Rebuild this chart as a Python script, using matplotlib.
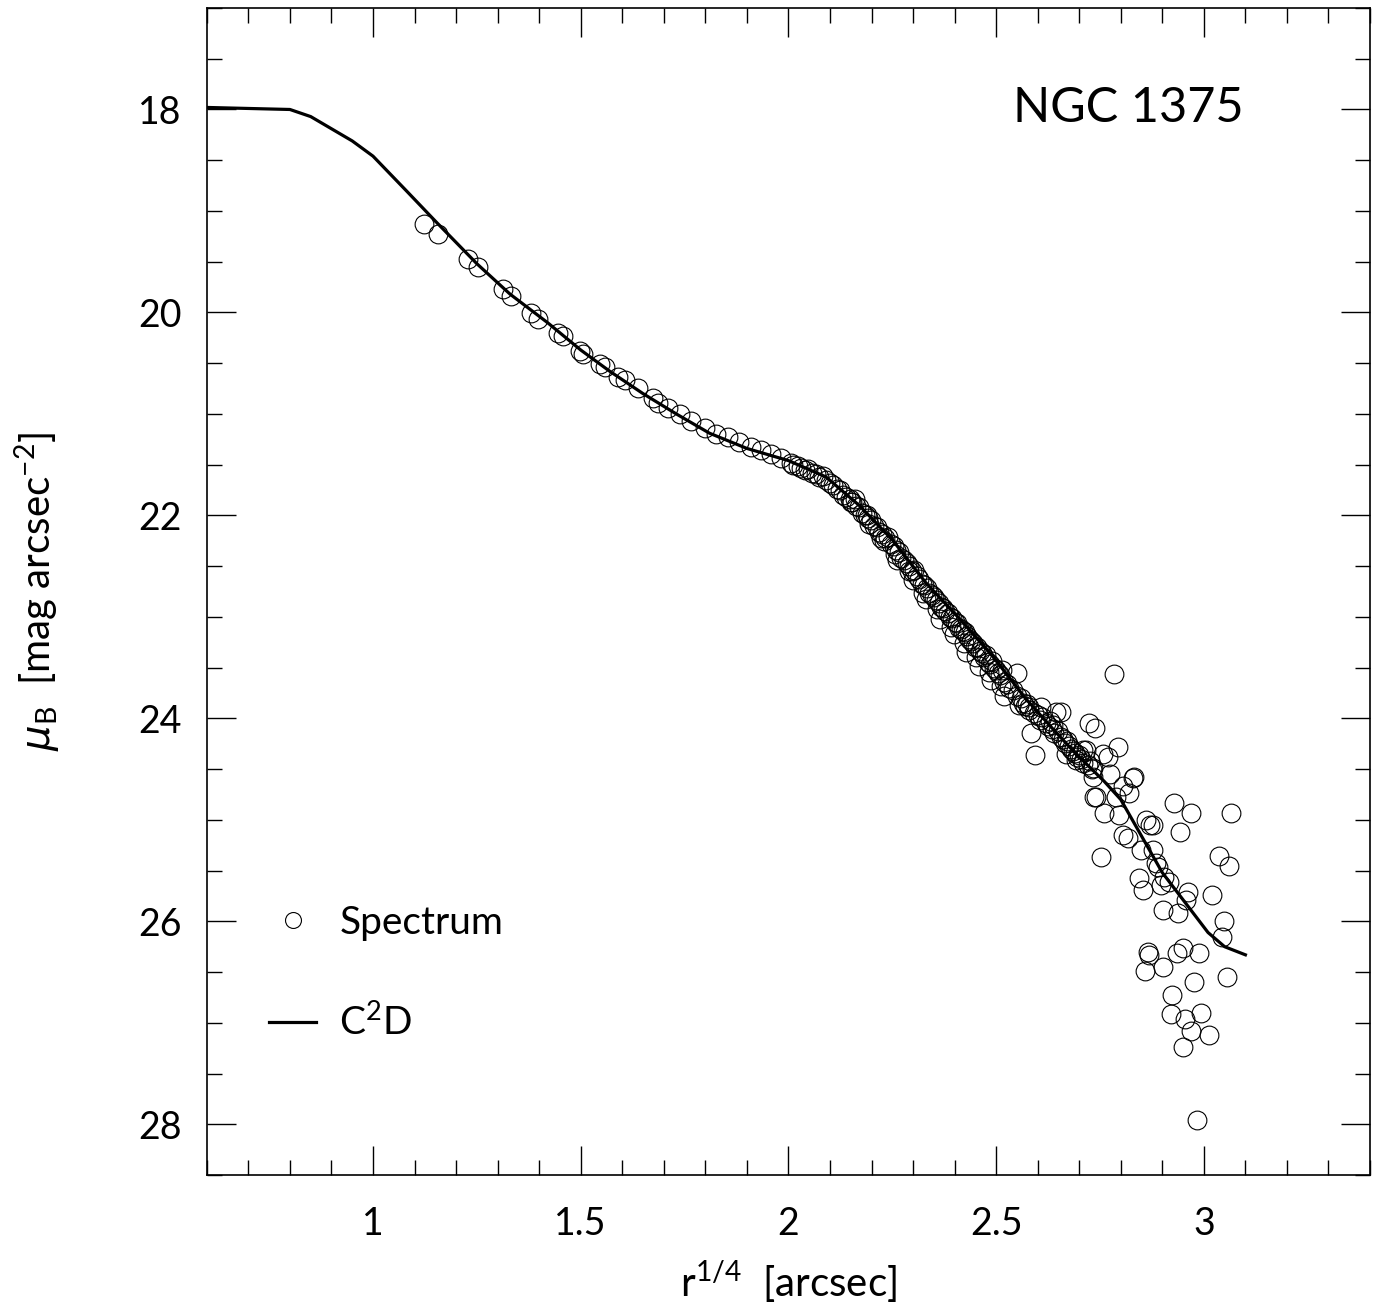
import matplotlib
matplotlib.use("Agg")
from matplotlib import pyplot as plt, ticker as mticker

plt.rcParams["font.family"] = ["Lato", "DejaVu Sans"]
plt.rcParams["mathtext.fontset"] = "custom"
plt.rcParams["mathtext.rm"] = "Lato"
plt.rcParams["mathtext.it"] = "DejaVu Sans:italic"

# C2D model curve
model_x = [0.6, 0.8, 0.85, 0.9, 0.95, 1.0, 1.08, 1.15, 1.2, 1.25, 1.33, 1.42,
           1.5, 1.57, 1.65, 1.73, 1.81, 1.9, 2.0, 2.09, 2.17, 2.25, 2.33, 2.41,
           2.49, 2.57, 2.64, 2.69, 2.76, 2.8, 2.9, 3.01, 3.05, 3.1]
model_y = [17.98, 18.0, 18.07, 18.19, 18.31, 18.46, 18.80, 19.10, 19.31, 19.52,
           19.82, 20.1, 20.37, 20.58, 20.80, 21.0, 21.19, 21.34, 21.46, 21.62,
           21.9, 22.24, 22.66, 23.01, 23.38, 23.8, 24.12, 24.34, 24.62, 24.8,
           25.52, 26.11, 26.25, 26.33]

# spectrum profile points
spec_x = [1.122, 1.156, 1.228, 1.252, 1.314, 1.333, 1.381, 1.398, 1.446, 1.458,
          1.499, 1.506, 1.547, 1.559, 1.590, 1.607, 1.638, 1.674, 1.686, 1.710,
          1.739, 1.765, 1.799, 1.825, 1.854, 1.882, 1.909, 1.933, 1.957, 1.981,
          2.005,
          2.012, 2.022, 2.031, 2.040, 2.048, 2.057, 2.066, 2.074, 2.083, 2.091,
          2.100, 2.108, 2.116, 2.124, 2.131, 2.139, 2.147, 2.154, 2.162, 2.169,
          2.176, 2.184, 2.191, 2.198, 2.205, 2.212, 2.219, 2.226, 2.233, 2.240,
          2.246, 2.253, 2.260, 2.266, 2.272, 2.279, 2.285, 2.291, 2.297, 2.303,
          2.309, 2.315, 2.321, 2.327, 2.333, 2.339, 2.345, 2.350, 2.356, 2.362,
          2.367, 2.373, 2.378, 2.384, 2.389, 2.394, 2.400, 2.405, 2.410, 2.415,
          2.420, 2.425, 2.430, 2.435, 2.440, 2.445, 2.450, 2.455, 2.460, 2.465,
          2.470, 2.475, 2.480, 2.485, 2.490, 2.495, 2.500, 2.505, 2.510, 2.515,
          2.520, 2.525, 2.530, 2.549,
          2.540, 2.550, 2.560, 2.565, 2.570, 2.575, 2.580, 2.590, 2.600, 2.605,
          2.610, 2.620, 2.625, 2.630, 2.635, 2.640, 2.650, 2.655, 2.660, 2.665,
          2.670, 2.675, 2.680, 2.685, 2.690, 2.695, 2.700, 2.705, 2.710, 2.720,
          2.725, 2.730,
          2.556, 2.580, 2.609, 2.645, 2.585, 2.593, 2.638, 2.657, 2.724, 2.737,
          2.669, 2.693, 2.710, 2.794, 2.784, 2.758, 2.773, 2.734, 2.830, 2.806,
          2.741, 2.789, 2.717, 2.770, 2.733, 2.832, 2.736, 2.820, 2.760, 2.796,
          2.861, 2.878, 2.928, 2.969, 2.943, 2.806, 2.818, 2.849, 2.878, 2.753,
          2.885, 2.844, 2.904, 2.853, 2.962,
          3.065, 3.036, 3.060, 3.019, 3.048, 3.043, 2.902, 2.938, 2.957, 2.916,
          2.897, 2.871, 2.866, 2.868, 2.859, 2.902, 2.935, 2.949, 2.988, 2.976,
          3.055, 2.924, 2.921, 2.955, 2.993, 2.969, 3.012, 2.949, 2.983, 2.890,
          2.160, 2.195, 2.230, 2.262, 2.300, 2.330, 2.365, 2.398, 2.428, 2.458,
          2.488, 2.518, 2.150, 2.188, 2.222, 2.256, 2.290, 2.324, 2.358, 2.392,
          2.422, 2.452, 2.482, 2.512]
spec_y = [19.13, 19.23, 19.47, 19.55, 19.77, 19.84, 20.01, 20.06, 20.20, 20.23,
          20.38, 20.41, 20.51, 20.54, 20.64, 20.67, 20.74, 20.84, 20.89, 20.94,
          21.00, 21.07, 21.14, 21.20, 21.23, 21.28, 21.33, 21.36, 21.39, 21.43,
          21.48,
          21.50, 21.51, 21.53, 21.55, 21.54, 21.58, 21.59, 21.62, 21.61, 21.65,
          21.68, 21.70, 21.74, 21.75, 21.80, 21.82, 21.84, 21.87, 21.91, 21.92,
          21.98, 22.00, 22.03, 22.05, 22.10, 22.11, 22.16, 22.18, 22.22, 22.21,
          22.28, 22.30, 22.34, 22.36, 22.42, 22.44, 22.47, 22.50, 22.55, 22.54,
          22.60, 22.63, 22.68, 22.69, 22.72, 22.76, 22.78, 22.80, 22.83, 22.86,
          22.90, 22.91, 22.94, 22.96, 23.00, 23.01, 23.05, 23.06, 23.11, 23.12,
          23.14, 23.15, 23.19, 23.22, 23.24, 23.26, 23.30, 23.30, 23.34, 23.36,
          23.40, 23.38, 23.44, 23.46, 23.43, 23.50, 23.52, 23.55, 23.57, 23.52,
          23.64, 23.66, 23.70, 23.55,
          23.72, 23.78, 23.80, 23.85, 23.88, 23.86, 23.92, 23.95, 23.97, 24.02,
          23.99, 24.05, 24.08, 24.03, 24.10, 24.14, 24.12, 24.18, 24.20, 24.24,
          24.22, 24.27, 24.30, 24.32, 24.34, 24.38, 24.36, 24.40, 24.44, 24.46,
          24.42, 24.50,
          23.87, 23.89, 23.89, 23.94, 24.14, 24.36, 24.07, 23.94, 24.05, 24.09,
          24.35, 24.41, 24.31, 24.28, 23.56, 24.35, 24.55, 24.58, 24.59, 24.67,
          24.77, 24.77, 24.31, 24.38, 24.49, 24.58, 24.77, 24.74, 24.93, 24.95,
          25.00, 25.05, 24.83, 24.93, 25.12, 25.15, 25.18, 25.30, 25.30, 25.37,
          25.43, 25.57, 25.56, 25.69, 25.71,
          24.93, 25.36, 25.45, 25.74, 26.00, 26.15, 25.89, 25.92, 25.79, 25.61,
          25.64, 25.05, 26.30, 26.33, 26.49, 26.45, 26.31, 26.26, 26.31, 26.60,
          26.55, 26.73, 26.91, 26.96, 26.90, 27.08, 27.12, 27.24, 27.96, 25.46,
          21.84, 22.08, 22.25, 22.44, 22.64, 22.82, 23.02, 23.17, 23.35, 23.48,
          23.62, 23.78, 21.87, 22.00, 22.22, 22.38, 22.55, 22.76, 22.92, 23.10,
          23.26, 23.40, 23.54, 23.68]

fig = plt.figure(figsize=(13.79, 13.11), dpi=100)
ax = fig.add_axes([0.150, 0.1037, 0.8435, 0.8902])

ax.plot(spec_x, spec_y, linestyle="none", marker="o", markersize=13.5,
        markerfacecolor="none", markeredgecolor="black", markeredgewidth=0.8,
        label="Spectrum")
ax.plot(model_x, model_y, color="black", linewidth=2.3, label=r"C$^2$D")

ax.set_xlim(0.6, 3.4)
ax.set_ylim(28.5, 17)

ax.xaxis.set_major_locator(mticker.MultipleLocator(0.5))
ax.xaxis.set_minor_locator(mticker.MultipleLocator(0.1))
ax.yaxis.set_major_locator(mticker.MultipleLocator(2))
ax.yaxis.set_minor_locator(mticker.MultipleLocator(0.5))
ax.xaxis.set_major_formatter(mticker.FuncFormatter(lambda v, p: "%g" % v))
ax.yaxis.set_major_formatter(mticker.FuncFormatter(lambda v, p: "%g" % v))

ax.tick_params(which="both", direction="in", top=True, right=True, width=1)
ax.tick_params(which="major", length=21, labelsize=27)
ax.tick_params(axis="x", which="major", pad=22)
ax.tick_params(axis="y", which="major", pad=18)
ax.tick_params(which="minor", length=11)
for s in ax.spines.values():
    s.set_linewidth(1.2)

ax.set_xlabel(r"r$^{1/4}$  [arcsec]", fontsize=29, labelpad=12)
ax.set_ylabel(r"$\mu_{\rm B}$  [mag arcsec$^{-2}$]", fontsize=29, labelpad=54)

ax.text(0.891, 0.914, "NGC 1375", transform=ax.transAxes, ha="right",
        va="center", fontsize=35)

leg = ax.legend(loc="lower left", bbox_to_anchor=(0.037, 0.097), frameon=False,
                fontsize=28, markerscale=0.85, handlelength=1.2,
                handletextpad=0.6, labelspacing=1.6, borderpad=0)

plt.savefig("out.png", dpi=100)
